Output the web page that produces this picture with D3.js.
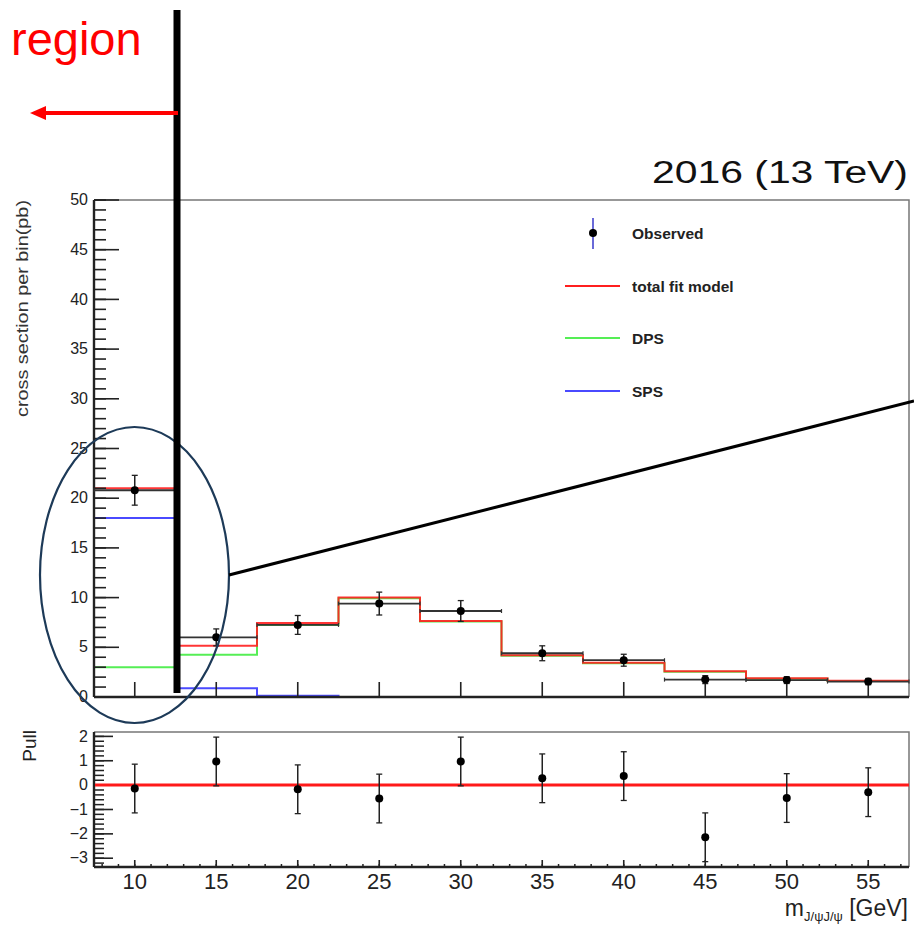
<!DOCTYPE html>
<html><head><meta charset="utf-8">
<script src="https://cdn.jsdelivr.net/npm/d3@7"></script>
<style>
html,body{margin:0;padding:0;background:#fff;}
svg{display:block;font-family:"Liberation Sans",Arial,Helvetica,sans-serif;}
</style></head>
<body>
<svg id="c" width="914" height="925"></svg>
<script>
// ---- data ----
const binCenters = [10, 15, 20, 25, 30, 35, 40, 45, 50, 55];
const binEdges   = [7.5, 12.5, 17.5, 22.5, 27.5, 32.5, 37.5, 42.5, 47.5, 52.5, 57.5];
const observed   = [20.8, 6.0, 7.25, 9.4, 8.65, 4.4, 3.7, 1.75, 1.7, 1.55];
const observedErr= [1.5, 0.85, 0.95, 1.15, 1.05, 0.75, 0.6, 0.4, 0.34, 0.31];
const totalFit   = [21.0, 5.15, 7.45, 10.0, 7.65, 4.2, 3.45, 2.6, 1.88, 1.64];
const dps        = [3.0, 4.25, 7.25, 9.93, 7.6, 4.15, 3.4, 2.55, 1.84, 1.6];
const sps        = [18.0, 0.87, 0.12, 0.0, 0.0, 0, 0, 0, 0, 0];
const pull       = [-0.14, 0.97, -0.17, -0.55, 0.97, 0.28, 0.37, -2.14, -0.53, -0.29];
const pullErr    = [1, 1, 1, 1, 1, 1, 1, 1, 1, 1];
const xTickLabels = [10, 15, 20, 25, 30, 35, 40, 45, 50, 55];
const yTickLabels = [0, 5, 10, 15, 20, 25, 30, 35, 40, 45, 50];
const pullTickLabels = [-3, -2, -1, 0, 1, 2];
const legendItems = ["Observed", "total fit model", "DPS", "SPS"];

// ---- layout ----
const svg = d3.select("#c");
const L = 94, R = 909;
const mainTop = 200, mainBot = 697;
const pullTop = 732, pullBot = 867;
const x = d3.scaleLinear().domain([7.5, 57.5]).range([L, R]);
const y = d3.scaleLinear().domain([0, 50]).range([mainBot, mainTop]);
const yp = d3.scaleLinear().domain([-3.36, 2.18]).range([pullBot, pullTop]);
const RED = "#ff1f1f", GREEN = "#55ee55", BLUE = "#4a4aff";

// ---- main frame ----
svg.append("path").attr("d", `M${L},${mainTop}H${R}V${mainBot}`)
  .attr("fill","none").attr("stroke","#777").attr("stroke-width",1.5);

// histogram step helper
function stepPath(vals){
  let d = `M${x(binEdges[0])},${y(0)}`;
  vals.forEach((v,i)=>{ d += `L${x(binEdges[i])},${y(v)}L${x(binEdges[i+1])},${y(v)}`; });
  return d;
}
svg.append("path").attr("d",stepPath(sps)).attr("fill","none").attr("stroke",BLUE).attr("stroke-width",2);
svg.append("path").attr("d",stepPath(dps)).attr("fill","none").attr("stroke",GREEN).attr("stroke-width",2);
svg.append("path").attr("d",stepPath(totalFit)).attr("fill","none").attr("stroke",RED).attr("stroke-width",2).attr("stroke-opacity",0.9);

// main y axis
const gy = svg.append("g").attr("transform",`translate(${L},0)`);
gy.call(d3.axisLeft(y).offset(0).tickValues(d3.range(0,51,1)).tickSizeInner(-12).tickSizeOuter(0).tickFormat(""));
gy.call(g=>g.selectAll(".domain").remove());
const gy2 = svg.append("g").attr("transform",`translate(${L},0)`);
gy2.call(d3.axisLeft(y).offset(0).tickValues(yTickLabels).tickSizeInner(-25).tickSizeOuter(0).tickPadding(6).tickFormat(d3.format("d")));
gy2.call(g=>g.selectAll(".domain").remove());
gy2.selectAll("text").attr("font-size",16).attr("fill","#222");
svg.selectAll(".tick line").attr("stroke","#222").attr("stroke-width",1.6);
svg.append("line").attr("x1",L).attr("x2",L).attr("y1",mainTop).attr("y2",mainBot).attr("stroke","#222").attr("stroke-width",2.4);

// main x axis (ticks only)
const gx = svg.append("g").attr("transform",`translate(0,${mainBot})`);
gx.call(d3.axisBottom(x).offset(0).tickValues(d3.range(8,58,1)).tickSizeInner(-7).tickSizeOuter(0).tickFormat(""));
gx.call(d3.axisBottom(x).offset(0).tickValues(xTickLabels).tickSizeInner(-15).tickSizeOuter(0).tickFormat(""));
gx.selectAll(".tick line").attr("stroke","#222").attr("stroke-width",1.6);
gx.selectAll(".domain").remove();
svg.append("line").attr("x1",L).attr("x2",R).attr("y1",mainBot).attr("y2",mainBot).attr("stroke","#222").attr("stroke-width",2.6);

// observed
const obs = svg.append("g");
binCenters.forEach((c,i)=>{
  const xl = x(binEdges[i]), xr = x(binEdges[i+1]), yy = y(observed[i]);
  obs.append("line").attr("x1",xl).attr("x2",xr).attr("y1",yy).attr("y2",yy).attr("stroke","#333").attr("stroke-width",1.8);
  [xl, xr].forEach(xx=>obs.append("line").attr("x1",xx).attr("x2",xx).attr("y1",yy-2).attr("y2",yy+2).attr("stroke","#333").attr("stroke-width",1.2));
  const y1 = y(observed[i]+observedErr[i]), y2 = y(observed[i]-observedErr[i]);
  obs.append("line").attr("x1",x(c)).attr("x2",x(c)).attr("y1",y1).attr("y2",y2).attr("stroke","#222").attr("stroke-width",1.5);
  [y1,y2].forEach(yv=>obs.append("line").attr("x1",x(c)-3).attr("x2",x(c)+3).attr("y1",yv).attr("y2",yv).attr("stroke","#222").attr("stroke-width",1.3));
  obs.append("circle").attr("cx",x(c)).attr("cy",yy).attr("r",4).attr("fill","#000");
});

// legend
const lg = svg.append("g").attr("font-weight","bold").attr("font-size",15.5).attr("fill","#222");
const legY = [233, 286, 338, 391];
lg.append("line").attr("x1",593).attr("x2",593).attr("y1",218).attr("y2",249).attr("stroke","#6a6ad8").attr("stroke-width",2);
lg.append("circle").attr("cx",593).attr("cy",legY[0]).attr("r",4).attr("fill","#000");
[RED, GREEN, BLUE].forEach((col,i)=>{
  lg.append("line").attr("x1",565).attr("x2",620).attr("y1",legY[i+1]).attr("y2",legY[i+1]).attr("stroke",col).attr("stroke-width",1.8);
});
legendItems.forEach((t,i)=>lg.append("text").attr("x",632).attr("y",legY[i]+5.5).text(t));

// title
svg.append("text").attr("x",908).attr("y",183).attr("text-anchor","end").attr("font-size",31)
  .attr("textLength",256).attr("lengthAdjust","spacingAndGlyphs").attr("fill","#111").text("2016 (13 TeV)");

// main y title
svg.append("text").attr("transform","translate(28,200) rotate(-90)").attr("text-anchor","end")
  .attr("font-size",17).attr("fill","#333").attr("textLength",217).attr("lengthAdjust","spacingAndGlyphs")
  .text("cross section per bin(pb)");

// ---- pull panel ----
svg.append("path").attr("d",`M${L},${pullTop}H${R}V${pullBot}`).attr("fill","none").attr("stroke","#777").attr("stroke-width",1.5);
const py = svg.append("g").attr("transform",`translate(${L},0)`);
py.call(d3.axisLeft(yp).offset(0).tickValues(d3.range(-16,11).map(i=>+(i*0.2).toFixed(1))).tickSizeInner(-10).tickSizeOuter(0).tickFormat(""));
py.call(g=>g.selectAll(".domain").remove());
const py2 = svg.append("g").attr("transform",`translate(${L},0)`);
py2.call(d3.axisLeft(yp).offset(0).tickValues(pullTickLabels).tickSizeInner(-19).tickSizeOuter(0).tickPadding(6).tickFormat(d=>d<0?"\u2212"+Math.abs(d):d));
py2.call(g=>g.selectAll(".domain").remove());
py2.selectAll("text").attr("font-size",16).attr("fill","#222");
py.selectAll(".tick line").attr("stroke","#222").attr("stroke-width",1.5);
py2.selectAll(".tick line").attr("stroke","#222").attr("stroke-width",1.6);
svg.append("line").attr("x1",L).attr("x2",L).attr("y1",pullTop).attr("y2",pullBot).attr("stroke","#222").attr("stroke-width",2.4);

const px = svg.append("g").attr("transform",`translate(0,${pullBot})`);
px.call(d3.axisBottom(x).offset(0).tickValues(d3.range(8,58,1)).tickSizeInner(-3).tickSizeOuter(0).tickFormat(""));
const px2 = svg.append("g").attr("transform",`translate(0,${pullBot})`);
px2.call(d3.axisBottom(x).offset(0).tickValues(xTickLabels).tickSizeInner(-7).tickSizeOuter(0).tickPadding(6).tickFormat(d3.format("d")));
px2.selectAll("text").attr("font-size",22).attr("fill","#222");
px.selectAll(".tick line").attr("stroke","#222").attr("stroke-width",1.5);
px2.selectAll(".tick line").attr("stroke","#222").attr("stroke-width",1.6);
px.selectAll(".domain").attr("stroke","#222").attr("stroke-width",2.4);
px2.selectAll(".domain").remove();

// zero line
svg.append("line").attr("x1",L+1).attr("x2",R).attr("y1",yp(0)).attr("y2",yp(0)).attr("stroke","#ff1a1a").attr("stroke-width",3);

// pull points
const pg = svg.append("g");
binCenters.forEach((c,i)=>{
  const cx = x(c), y1 = yp(pull[i]+pullErr[i]), y2 = yp(pull[i]-pullErr[i]);
  pg.append("line").attr("x1",cx).attr("x2",cx).attr("y1",y1).attr("y2",y2).attr("stroke","#222").attr("stroke-width",1.5);
  [y1,y2].forEach(yv=>pg.append("line").attr("x1",cx-3).attr("x2",cx+3).attr("y1",yv).attr("y2",yv).attr("stroke","#222").attr("stroke-width",1.3));
  pg.append("circle").attr("cx",cx).attr("cy",yp(pull[i])).attr("r",4).attr("fill","#000");
});

svg.append("text").attr("transform","translate(36,730) rotate(-90)").attr("text-anchor","end")
  .attr("font-size",19).attr("fill","#222").text("Pull");

// x title
const xt = svg.append("text").attr("x",908).attr("y",916).attr("text-anchor","end").attr("font-size",23).attr("fill","#222");
xt.append("tspan").text("m");
xt.append("tspan").attr("font-size",13).attr("dy",5).text("J/\u03c8J/\u03c8");
xt.append("tspan").attr("dy",-5).text(" [GeV]");

// ---- annotations ----
svg.append("ellipse").attr("cx",134.5).attr("cy",575).attr("rx",94.5).attr("ry",148)
  .attr("fill","none").attr("stroke","#1d3a58").attr("stroke-width",2.2);
svg.append("line").attr("x1",229).attr("y1",575).attr("x2",914).attr("y2",401).attr("stroke","#000").attr("stroke-width",3);
svg.append("line").attr("x1",177).attr("x2",177).attr("y1",10).attr("y2",693).attr("stroke","#000").attr("stroke-width",7);
svg.append("line").attr("x1",178).attr("x2",44).attr("y1",113).attr("y2",113).attr("stroke","#ff0000").attr("stroke-width",4);
svg.append("path").attr("d","M30,113L46,106L46,120Z").attr("fill","#ff0000");
svg.append("text").attr("x",11).attr("y",55).attr("font-size",47).attr("fill","#ff0000").text("region");
</script>
</body></html>
